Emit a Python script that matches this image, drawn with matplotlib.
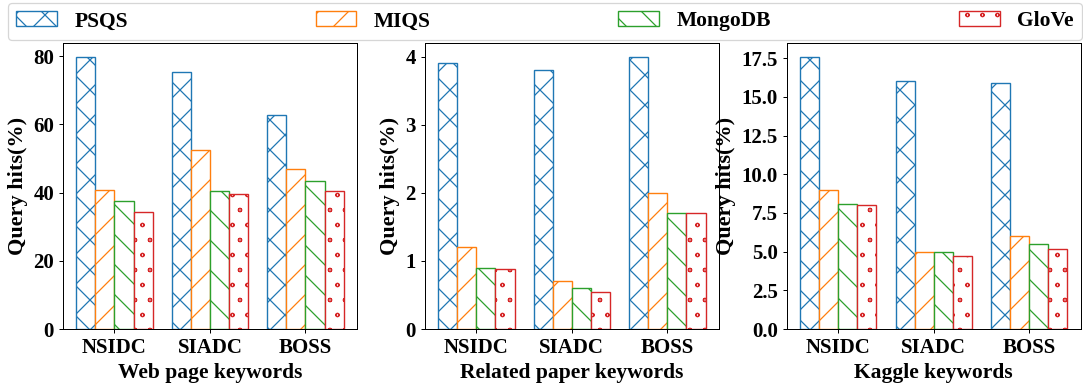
import matplotlib
matplotlib.use('Agg')
import matplotlib.pyplot as plt
import matplotlib.hatch
from matplotlib.ticker import MultipleLocator, FormatStrFormatter
import numpy as np

plt.rcParams['font.family'] = ['Liberation Serif', 'DejaVu Serif']
plt.rcParams['font.weight'] = 'bold'
plt.rcParams['axes.labelweight'] = 'bold'
plt.rcParams['hatch.linewidth'] = 1.0
# smaller hollow circles for the 'o' hatch
matplotlib.hatch.SmallCircles.size = 0.11

datasets = ['NSIDC', 'SIADC', 'BOSS']
methods = ['PSQS', 'MIQS', 'MongoDB', 'GloVe']
xlabels = ['Web page keywords', 'Related paper keywords', 'Kaggle keywords']

# web page keywords
web_psqs = [79.8, 75.2, 62.8]
web_miqs = [40.8, 52.6, 47.0]
web_mongo = [37.6, 40.4, 43.5]
web_glove = [34.3, 39.7, 40.3]

# related paper keywords
paper_psqs = [3.9, 3.8, 4.0]
paper_miqs = [1.2, 0.7, 2.0]
paper_mongo = [0.9, 0.6, 1.7]
paper_glove = [0.88, 0.55, 1.7]

# kaggle keywords
kaggle_psqs = [17.6, 16.0, 15.9]
kaggle_miqs = [9.0, 5.0, 6.0]
kaggle_mongo = [8.1, 5.0, 5.5]
kaggle_glove = [8.0, 4.7, 5.2]

groups = [
    [web_psqs, web_miqs, web_mongo, web_glove],
    [paper_psqs, paper_miqs, paper_mongo, paper_glove],
    [kaggle_psqs, kaggle_miqs, kaggle_mongo, kaggle_glove],
]

colors = ['#1f77b4', '#ff7f0e', '#2ca02c', '#d62728']
hatches = ['x', '/', '\\', 'o']

DPI = 90
k = 100 / DPI  # keep text pixel sizes while hatch scale follows dpi

fig, axes = plt.subplots(1, 3, figsize=(1083 / DPI, 388 / DPI), dpi=DPI)
plt.subplots_adjust(left=0.058, right=0.998, top=0.889, bottom=0.152, wspace=0.23)

x = np.arange(len(datasets))
w = 0.2
for ax, vals, xl in zip(axes, groups, xlabels):
    for i, (v, c, h, m) in enumerate(zip(vals, colors, hatches, methods)):
        ax.bar(x + (i - 1.5) * w, v, w, facecolor='white', edgecolor=c,
               hatch=h, linewidth=1.0 * k, label=m)
    ax.set_xticks(x)
    ax.set_xticklabels(datasets, fontsize=15 * k)
    ax.tick_params(axis='y', labelsize=15 * k)
    ax.set_ylabel('Query hits(%)', fontsize=16 * k)
    ax.set_xlabel(xl, fontsize=15.5 * k)

axes[2].yaxis.set_major_locator(MultipleLocator(2.5))
axes[2].yaxis.set_major_formatter(FormatStrFormatter('%.1f'))

handles, labels = axes[0].get_legend_handles_labels()
fig.legend(handles, labels, loc='upper left', ncol=4, mode='expand',
           bbox_to_anchor=(0.007, 0.993, 0.992, 0.0), fontsize=15.5 * k,
           handlelength=1.9, borderaxespad=0.0)

plt.savefig('out.png', dpi=DPI)
